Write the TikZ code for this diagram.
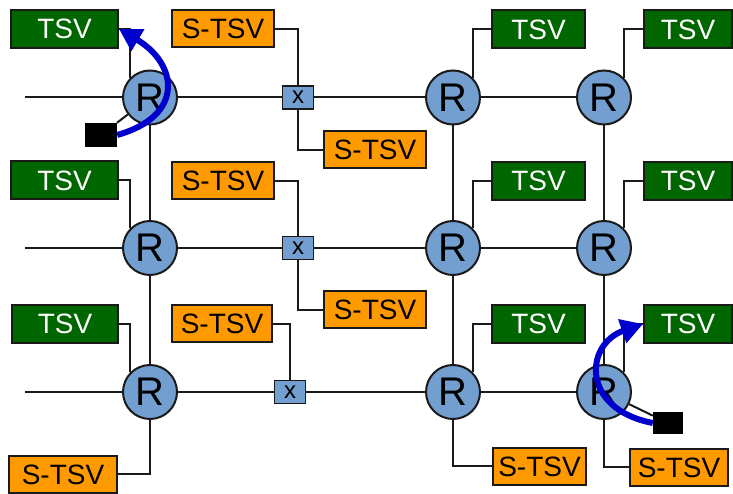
\documentclass[tikz,border=0pt]{standalone}
\usepackage{fontspec}
\setmainfont{Liberation Sans}
\usetikzlibrary{arrows.meta}
\definecolor{tsvgreen}{HTML}{006600}
\definecolor{stsvorange}{HTML}{FF9900}
\definecolor{routerblue}{HTML}{729FCF}
\definecolor{flowblue}{HTML}{0000CC}
\definecolor{edgegray}{HTML}{1A1A1A}

\begin{document}
\begin{tikzpicture}[x=1pt, y=1pt,
    router/.style={circle, draw=edgegray, line width=2pt, fill=routerblue,
      minimum size=54pt, inner sep=0pt, font=\fontsize{40}{40}\selectfont},
    xbar/.style={rectangle, draw=edgegray, line width=1.6pt, fill=routerblue,
      minimum width=31pt, minimum height=23pt, inner sep=0pt,
      font=\fontsize{24}{24}\selectfont},
    tsv/.style={rectangle, draw=edgegray, line width=2pt, fill=tsvgreen,
      text=white, minimum height=38pt, inner sep=0pt,
      font=\fontsize{28}{28}\selectfont},
    stsv/.style={tsv, fill=stsvorange, text=black, minimum height=37pt},
    blk/.style={rectangle, fill=black, inner sep=0pt},
    wire/.style={line width=2pt, draw=edgegray},
    flow/.style={draw=flowblue, line width=6pt,
      -{Triangle[length=22pt, width=24pt]}}
]
  \useasboundingbox (0,0) rectangle (733,494);

  % Router
  \node[router] (r11) at (150,396.5) {R};
  \node[router] (r12) at (453,396.5) {R};
  \node[router] (r13) at (604,396.5) {R};
  \node[router] (r21) at (150,246) {R};
  \node[router] (r22) at (453,246) {R};
  \node[router] (r23) at (604,246) {R};
  \node[router] (r31) at (150,102) {R};
  \node[router] (r32) at (453,102) {R};
  \node[router] (r33) at (604,102) {R};

  % Kreuzungen
  \node[xbar] (x1) at (298,396.5) {x};
  \node[xbar] (x2) at (298,246) {x};
  \node[xbar] (x3) at (290,102) {x};

  % TSV links
  \node[tsv, minimum width=107pt] (t11) at (64.5,465) {TSV};
  \node[tsv, minimum width=107pt] (t21) at (64.5,313.5) {TSV};
  \node[tsv, minimum width=106pt] (t31) at (65,170) {TSV};

  % S-TSV an den Kreuzungen
  \node[stsv, minimum width=102pt] (s11) at (223,465) {S-TSV};
  \node[stsv, minimum width=102pt] (s21) at (223,313) {S-TSV};
  \node[stsv, minimum width=100pt] (s31) at (222,170) {S-TSV};
  \node[stsv, minimum width=102pt] (s12) at (375,344) {S-TSV};
  \node[stsv, minimum width=102pt] (s22) at (375,184) {S-TSV};

  % TSV rechts
  \node[tsv, minimum width=93pt] (t12) at (538.5,464.5) {TSV};
  \node[tsv, minimum width=93pt] (t22) at (538.5,313) {TSV};
  \node[tsv, minimum width=93pt] (t32) at (538.5,170) {TSV};
  \node[tsv, minimum width=88pt] (t13) at (688,464.5) {TSV};
  \node[tsv, minimum width=88pt] (t23) at (688,313) {TSV};
  \node[tsv, minimum width=88pt] (t33) at (688,170) {TSV};

  % S-TSV unten
  \node[stsv, minimum width=108pt] (b1) at (63,19.5) {S-TSV};
  \node[stsv, minimum width=93pt] (b2) at (539.5,27.5) {S-TSV};
  \node[stsv, minimum width=98pt] (b3) at (679,26.5) {S-TSV};

  % Quellen
  \node[blk, minimum width=32pt, minimum height=24pt] (k1) at (101,359) {};
  \node[blk, minimum width=30pt, minimum height=22pt] (k2) at (668,71) {};

  % Leitungen horizontal
  \coordinate (w1) at (25,396.5);
  \coordinate (w2) at (25,246);
  \coordinate (w3) at (25,102);
  \draw[wire] (w1) -- (r11) -- (x1) -- (r12) -- (r13);
  \draw[wire] (w2) -- (r21) -- (x2) -- (r22) -- (r23);
  \draw[wire] (w3) -- (r31) -- (x3) -- (r32) -- (r33);

  % Leitungen vertikal
  \draw[wire] (r11) -- (r21) -- (r31) |- (b1);
  \draw[wire] (r12) -- (r22) -- (r32) |- (b2);
  \draw[wire] (r13) -- (r23) -- (r33) |- (b3);

  % TSV anbinden
  \draw[wire] (t11.east) -| (r11.north west);
  \draw[wire] (t21.east) -| (r21.north west);
  \draw[wire] (t31.east) -| (r31.north west);
  \draw[wire] (t12.west) -| (r12.north east);
  \draw[wire] (t22.west) -| (r22.north east);
  \draw[wire] (t32.west) -| (r32.north east);
  \draw[wire] (t13.west) -| (r13.north east);
  \draw[wire] (t23.west) -| (r23.north east);
  \draw[wire] (t33.west) -| (r33.north east);

  % S-TSV an den Kreuzungen anbinden
  \draw[wire] (s11.east) -| (x1.north);
  \draw[wire] (x1.south) |- (s12.west);
  \draw[wire] (s21.east) -| (x2.north);
  \draw[wire] (x2.south) |- (s22.west);
  \draw[wire] (s31.east) -| (x3.north);

  % Quellen anbinden
  \draw[wire] (k1) -- (r11);
  \draw[wire] (k2) -- (r33);

  % Datenfluss
  \draw[flow] (k1.east) .. controls (185,378) and (178,430) .. (t11.east);
  \draw[flow] (k2.west) .. controls (580,85) and (585,150) .. (t33.west);

\end{tikzpicture}
\end{document}
